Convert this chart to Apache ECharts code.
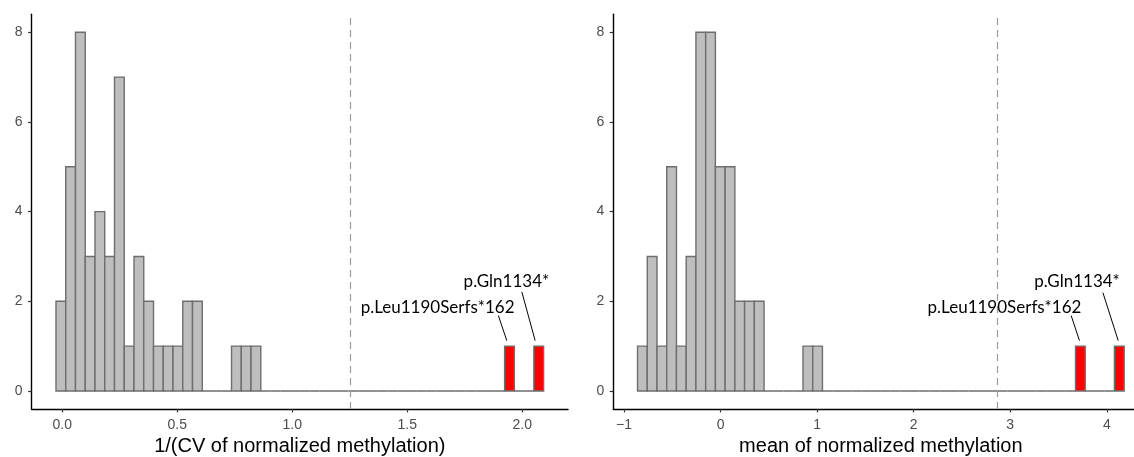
<!DOCTYPE html>
<html>
<head>
<meta charset="utf-8">
<script src="https://cdn.jsdelivr.net/npm/echarts@6/dist/echarts.min.js"></script>
<style>
  html, body { margin: 0; padding: 0; background: #fff; }
  #chart { width: 1134px; height: 457px; }
</style>
</head>
<body>
<div id="chart"></div>
<script>
// ---- 1/(CV of normalized methylation): 50 equal-width bins ----
const cvBinStart = -0.0274;
const cvBinWidth = 0.0424;
const cvCounts = [
  2, 5, 8, 3, 4, 3, 7, 1, 3, 2,
  1, 1, 1, 2, 2, 0, 0, 0, 1, 1,
  1, 0, 0, 0, 0, 0, 0, 0, 0, 0,
  0, 0, 0, 0, 0, 0, 0, 0, 0, 0,
  0, 0, 0, 0, 0, 0, 1, 0, 0, 1
];
const cvHighlightBins = [46, 49];
const cvCutoff = 1.25;
const cvTicks = [0, 0.5, 1, 1.5, 2];

// ---- mean of normalized methylation: 50 equal-width bins ----
const meanBinStart = -0.860;
const meanBinWidth = 0.1008;
const meanCounts = [
  1, 3, 1, 5, 1, 3, 8, 8, 5, 5,
  2, 2, 2, 0, 0, 0, 0, 1, 1, 0,
  0, 0, 0, 0, 0, 0, 0, 0, 0, 0,
  0, 0, 0, 0, 0, 0, 0, 0, 0, 0,
  0, 0, 0, 0, 0, 1, 0, 0, 0, 1
];
const meanHighlightBins = [45, 49];
const meanCutoff = 2.871;
const meanTicks = [-1, 0, 1, 2, 3, 4];

// variant names of the highlighted samples, in bin order
const variantLabels = ['p.Leu1190Serfs*162', 'p.Gln1134*'];
const countTicks = [0, 2, 4, 6, 8];

// pixel offsets of each repelled label (text centre and leader segment) from the bar top
const labelLayout = [
  [ { tx: -71.9, ty: -38.5, sx: -11.1, sy: -30.5, ex: -2.7, ey: -5.5 },
    { tx: -32.3, ty: -64.5, sx: -16.9, sy: -54.2, ex: -3.6, ey: -5.5 } ],
  [ { tx: -75.9, ty: -38.5, sx: -9.2, sy: -30.5, ex: -0.9, ey: -5.5 },
    { tx: -42.3, ty: -64.5, sx: -16.4, sy: -53.5, ex: -1.1, ey: -5.5 } ]
];

function binRows(start, width, counts, highlight) {
  return counts.map((n, i) => [start + i * width, start + (i + 1) * width, n, highlight.includes(i) ? 1 : 0]);
}
function labelRows(start, width, counts, highlight) {
  return highlight.map((b, k) => [start + (b + 0.5) * width, counts[b], k]);
}

const AXIS_FONT = '"Liberation Sans", Arial, Helvetica, sans-serif';
const LABEL_FONT = 'Lato, "Open Sans", sans-serif';

function renderBar(params, api) {
  const top = api.coord([api.value(0), api.value(2)]);
  const base = api.coord([api.value(1), 0]);
  return {
    type: 'rect',
    shape: { x: top[0], y: top[1], width: base[0] - top[0], height: base[1] - top[1] },
    style: { fill: api.value(3) ? '#FF0000' : '#BEBEBE', stroke: '#6E6E6E', lineWidth: 1.4 }
  };
}

function makeLabelRenderer(panel) {
  return function (params, api) {
    const p = api.coord([api.value(0), api.value(1)]);
    const k = api.value(2);
    const L = labelLayout[panel][k];
    return {
      type: 'group',
      children: [
        { type: 'line',
          shape: { x1: p[0] + L.sx, y1: p[1] + L.sy, x2: p[0] + L.ex, y2: p[1] + L.ey },
          style: { stroke: '#000', lineWidth: 1 } },
        { type: 'text',
          style: { text: variantLabels[k], x: p[0] + L.tx, y: p[1] + L.ty,
                   align: 'center', verticalAlign: 'middle',
                   font: '17px ' + LABEL_FONT, fill: '#000' } }
      ]
    };
  };
}

function xAxisDef(gridIndex, min, max, ticks, title, fmt) {
  return {
    type: 'value', gridIndex, min, max,
    axisLine: { show: true, onZero: false, lineStyle: { color: '#000', width: 1.4 } },
    axisTick: { show: true, length: 3.5, customValues: ticks, lineStyle: { color: '#333', width: 1.2 } },
    axisLabel: { show: true, customValues: ticks, margin: 9, color: '#4D4D4D', fontSize: 14,
                 fontFamily: AXIS_FONT, formatter: fmt },
    splitLine: { show: false },
    name: title, nameLocation: 'middle', nameGap: 26,
    nameTextStyle: { color: '#000', fontSize: 20, fontFamily: AXIS_FONT }
  };
}
function yAxisDef(gridIndex) {
  return {
    type: 'value', gridIndex, min: -0.4, max: 8.4,
    axisLine: { show: true, onZero: false, lineStyle: { color: '#000', width: 1.4 } },
    axisTick: { show: true, length: 3.5, customValues: countTicks, lineStyle: { color: '#333', width: 1.2 } },
    axisLabel: { show: true, customValues: countTicks, margin: 9, color: '#4D4D4D', fontSize: 14,
                 fontFamily: AXIS_FONT },
    splitLine: { show: false }
  };
}

function cutoffLine(value) {
  return {
    symbol: 'none', silent: true, animation: false,
    label: { show: false },
    lineStyle: { color: '#9A9A9A', type: [7, 5], width: 1.2 },
    data: [{ xAxis: value }]
  };
}

const cvPad = 0.05 * cvCounts.length * cvBinWidth;
const meanPad = 0.05 * meanCounts.length * meanBinWidth;

const option = {
  animation: false,
  backgroundColor: '#fff',
  grid: [
    { left: 31.6, top: 14.3, width: 536.4, height: 394.6, containLabel: false, outerBoundsMode: 'none' },
    { left: 613.2, top: 14.3, width: 535.3, height: 394.6, containLabel: false, outerBoundsMode: 'none' }
  ],
  xAxis: [
    xAxisDef(0, cvBinStart - cvPad, cvBinStart + cvCounts.length * cvBinWidth + cvPad,
             cvTicks, '1/(CV of normalized methylation)', v => v.toFixed(1)),
    xAxisDef(1, meanBinStart - meanPad, meanBinStart + meanCounts.length * meanBinWidth + meanPad,
             meanTicks, 'mean of normalized methylation', v => (v < 0 ? '\u2212' + Math.abs(v) : String(v)))
  ],
  yAxis: [yAxisDef(0), yAxisDef(1)],
  series: [
    { type: 'custom', xAxisIndex: 0, yAxisIndex: 0, renderItem: renderBar,
      encode: { x: [0, 1], y: 2 },
      data: binRows(cvBinStart, cvBinWidth, cvCounts, cvHighlightBins),
      markLine: cutoffLine(cvCutoff) },
    { type: 'custom', xAxisIndex: 1, yAxisIndex: 1, renderItem: renderBar,
      encode: { x: [0, 1], y: 2 },
      data: binRows(meanBinStart, meanBinWidth, meanCounts, meanHighlightBins),
      markLine: cutoffLine(meanCutoff) },
    { type: 'custom', xAxisIndex: 0, yAxisIndex: 0, renderItem: makeLabelRenderer(0),
      encode: { x: 0, y: 1 }, clip: false, z: 5,
      data: labelRows(cvBinStart, cvBinWidth, cvCounts, cvHighlightBins) },
    { type: 'custom', xAxisIndex: 1, yAxisIndex: 1, renderItem: makeLabelRenderer(1),
      encode: { x: 0, y: 1 }, clip: false, z: 5,
      data: labelRows(meanBinStart, meanBinWidth, meanCounts, meanHighlightBins) }
  ]
};

const chart = echarts.init(document.getElementById('chart'), null, { renderer: 'canvas' });
chart.setOption(option);
</script>
</body>
</html>
